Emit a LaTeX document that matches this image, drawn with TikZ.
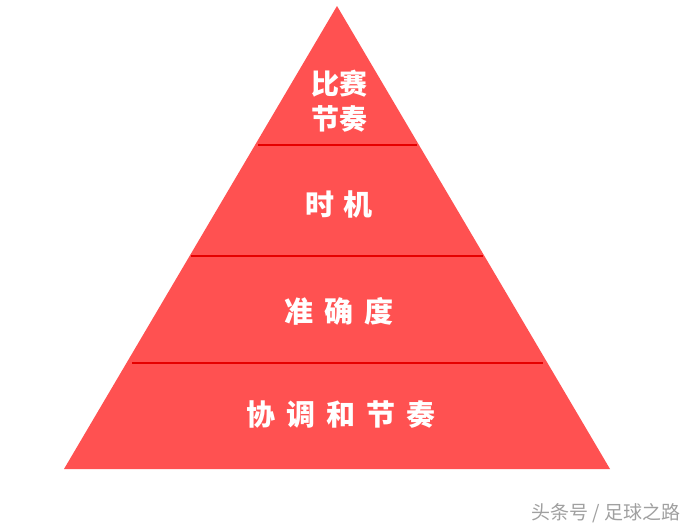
\documentclass[tikz,border=0pt]{standalone}
\usepackage{fontspec}
\newfontfamily\cjk{Noto Sans CJK SC}
\definecolor{pyrfill}{HTML}{FF5151}
\definecolor{pyrline}{HTML}{E60000}
\definecolor{wmgray}{HTML}{A0A0A0}
\begin{document}
\begin{tikzpicture}[x=1pt,y=-1pt,
  lvl/.style={text=white,font=\cjk\bfseries\fontsize{29}{34}\selectfont,inner sep=0pt,align=center},
  sep/.style={draw=pyrline,line width=2.8pt},
  wm/.style={text=wmgray,font=\cjk\fontsize{19}{21}\selectfont,inner sep=0pt}]
\useasboundingbox (0,0) rectangle (698,530);
\coordinate (A) at (337,6);
\coordinate (L) at (64,469);
\coordinate (R) at (610,469);
\fill[pyrfill] (A) -- (L) -- (R) -- cycle;
\coordinate (s1l) at (258,145); \coordinate (s1r) at (417,145);
\coordinate (s2l) at (191,256); \coordinate (s2r) at (483,256);
\coordinate (s3l) at (132,363); \coordinate (s3r) at (543,363);
\draw[sep] (s1l) -- (s1r);
\draw[sep] (s2l) -- (s2r);
\draw[sep] (s3l) -- (s3r);
\node[lvl,font=\cjk\bfseries\fontsize{28}{36}\selectfont] (t1) at (339,101) {比赛\\[-1pt]节奏};
\node[lvl] (t2) at (339,204) {时\hspace{10pt}机};
\node[lvl] (t3) at (339,311) {准\hspace{11pt}确\hspace{11pt}度};
\node[lvl] (t4) at (341,415) {协\hspace{11pt}调\hspace{11pt}和\hspace{11pt}节\hspace{11pt}奏};
\node[wm] (w) at (606,513) {头条号 / 足球之路};
\end{tikzpicture}
\end{document}
